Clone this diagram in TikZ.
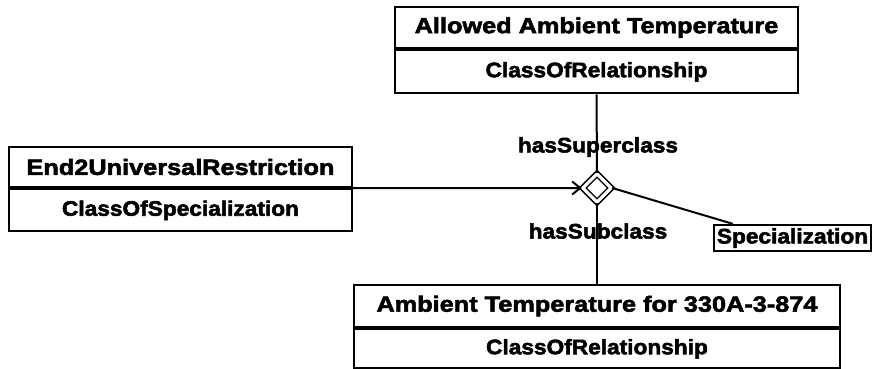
\documentclass[tikz,border=0pt]{standalone}
\usepackage{fontspec}
\setmainfont{Liberation Sans}
\newfontfamily\titlefam[FakeStretch=1.15,FakeBold=2.5]{Liberation Sans}
\newfontfamily\subfam[FakeStretch=1.08,FakeBold=2.5]{Liberation Sans}
\newcommand{\titlef}{\titlefam\bfseries\fontsize{22}{25}\selectfont}
\newcommand{\subf}{\subfam\bfseries\fontsize{21}{24}\selectfont}
\usetikzlibrary{shapes.geometric,arrows.meta}
\begin{document}
\begin{tikzpicture}[x=1pt,y=-1pt,
  comp/.style={draw, line width=2.3pt, inner sep=0pt, rectangle},
  conn/.style={draw, line width=2pt},
  lab/.style={inner sep=0pt, font=\subf}]
\useasboundingbox[fill=white] (0,0) rectangle (872,368);
% top box
\node[comp, minimum width=403pt, minimum height=41pt, font=\titlef] (t1) at (596.5,27.5) {Allowed Ambient Temperature};
\node[comp, minimum width=403pt, minimum height=43pt, anchor=north, font=\subf] (t2) at (t1.south) {ClassOfRelationship};
% left box
\node[comp, minimum width=343pt, minimum height=40pt, font=\titlef] (l1) at (180.5,167) {End2UniversalRestriction};
\node[comp, minimum width=343pt, minimum height=42pt, anchor=north, font=\subf] (l2) at (l1.south) {ClassOfSpecialization};
% bottom box
\node[comp, minimum width=486pt, minimum height=42pt, font=\titlef] (b1) at (597,306) {Ambient Temperature for 330A-3-874};
\node[comp, minimum width=486pt, minimum height=39pt, anchor=north, font=\subf] (b2) at (b1.south) {ClassOfRelationship};
% diamond
\node[diamond, draw, line width=1.5pt, double, double distance=3.2pt, minimum width=29pt, minimum height=29pt, inner sep=0pt] (dia) at (597,188) {};
% specialization
\node[comp, minimum width=157pt, minimum height=26pt, font=\subf] (spec) at (792.5,238) {Specialization};
% labels
\node[lab] (sup) at (598,147) {hasSuperclass};
\node[lab] (sub) at (598,231) {hasSubclass};
% connectors
\draw[conn] (t2.south) -- (dia.north);
\draw[conn] (dia.south) -- (b1.north);
\draw[conn, -{Straight Barb[length=8pt,width=13pt,line width=2pt]}] (l1.south east) -- (dia.west);
\draw[conn] (dia.east) -- ([xshift=20pt]spec.north west);
\end{tikzpicture}
\end{document}
